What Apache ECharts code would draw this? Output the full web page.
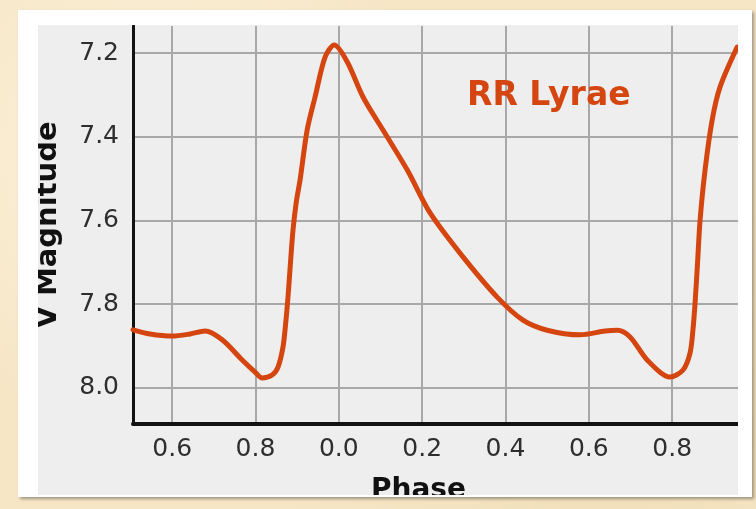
<!DOCTYPE html>
<html>
<head>
<meta charset="utf-8">
<script src="https://cdn.jsdelivr.net/npm/echarts@6/dist/echarts.min.js"></script>
<style>
  html, body { margin: 0; padding: 0; width: 756px; height: 509px; overflow: hidden; }
  body {
    background-color: #f6e6c6;
    background-image:
      radial-gradient(circle at 20% 30%, rgba(255,248,230,0.6), rgba(255,248,230,0) 40%),
      radial-gradient(circle at 80% 80%, rgba(236,214,170,0.5), rgba(236,214,170,0) 45%);
    position: relative;
  }
  #card {
    position: absolute; left: 18px; top: 10px; width: 734px; height: 487px;
    background: #ffffff; box-shadow: 2px 2px 3px rgba(0,0,0,0.35);
  }
  #chart {
    position: absolute; left: 38px; top: 25px; width: 700px; height: 470px;
    background: #eeeeee;
  }
</style>
</head>
<body>
<div id="card"></div>
<div id="chart"></div>
<script>
// Phase (continuous; labels shown modulo 1)
const phase = [0.506, 0.547, 0.600, 0.643, 0.679, 0.720, 0.768, 0.799, 0.816, 0.840, 0.854, 0.866, 0.872, 0.878, 0.884, 0.890, 0.898, 0.907, 0.924, 0.943, 0.967, 0.989, 1.020, 1.058, 1.106, 1.164, 1.219, 1.298, 1.380, 1.442, 1.500, 1.579, 1.639, 1.668, 1.699, 1.740, 1.795, 1.826, 1.843, 1.850, 1.855, 1.861, 1.867, 1.879, 1.896, 1.915, 1.956];
// V magnitude
const vMag = [7.861, 7.871, 7.876, 7.871, 7.864, 7.885, 7.933, 7.962, 7.976, 7.969, 7.950, 7.902, 7.850, 7.783, 7.700, 7.623, 7.555, 7.503, 7.384, 7.305, 7.210, 7.181, 7.221, 7.305, 7.384, 7.479, 7.582, 7.687, 7.783, 7.838, 7.862, 7.873, 7.864, 7.862, 7.878, 7.933, 7.974, 7.957, 7.916, 7.860, 7.797, 7.700, 7.599, 7.479, 7.360, 7.281, 7.186];
const xTicks = [0.6, 0.8, 1.0, 1.2, 1.4, 1.6, 1.8];
const yTicks = [7.2, 7.4, 7.6, 7.8, 8.0];
const starName = 'RR Lyrae';
const xName = 'Phase';
const yName = 'V Magnitude';

const lineColor = '#d5450f';
const chart = echarts.init(document.getElementById('chart'), null, { renderer: 'canvas' });
const data = phase.map((p, i) => [p, vMag[i]]);

chart.setOption({
  animation: false,
  backgroundColor: '#eeeeee',
  title: {
    text: starName,
    left: 424, top: 50,
    textStyle: { color: lineColor, fontFamily: 'DejaVu Sans', fontWeight: 'bold', fontSize: 33 }
  },
  grid: { left: 95, right: 0, top: 1, bottom: 71, containLabel: false, outerBoundsMode: 'none' },
  xAxis: {
    type: 'value', min: 0.506, max: 1.958,
    name: xName, nameLocation: 'middle', nameGap: 53,
    nameTextStyle: { fontFamily: 'DejaVu Sans', fontWeight: 'bold', fontSize: 28, color: '#111', padding: [0, 34, 0, 0] },
    axisLine: { show: true, onZero: false, lineStyle: { color: '#111', width: 4 } },
    axisTick: { show: false, customValues: xTicks },
    axisLabel: {
      customValues: xTicks, margin: 13,
      fontFamily: 'DejaVu Sans', fontSize: 25, color: '#2e2e2e',
      formatter: v => (Math.round((v % 1) * 10) / 10).toFixed(1)
    },
    splitLine: { show: true, lineStyle: { color: '#a8a8a8', width: 2 } }
  },
  yAxis: {
    type: 'value', inverse: true, min: 7.1355, max: 8.086,
    name: yName, nameLocation: 'middle', nameGap: 70, nameRotate: 90,
    nameTextStyle: { fontFamily: 'DejaVu Sans', fontWeight: 'bold', fontSize: 29, color: '#111' },
    axisLine: { show: true, onZero: false, lineStyle: { color: '#111', width: 3 } },
    axisTick: { show: false, customValues: yTicks },
    axisLabel: {
      customValues: yTicks, margin: 14,
      fontFamily: 'DejaVu Sans', fontSize: 25, color: '#2e2e2e',
      formatter: v => v.toFixed(1)
    },
    splitLine: { show: true, lineStyle: { color: '#a8a8a8', width: 2 } }
  },
  series: [{
    type: 'line', data: data, smooth: 0.3, symbol: 'none', clip: true,
    lineStyle: { color: lineColor, width: 5, cap: 'round', join: 'round' }
  }]
});
</script>
</body>
</html>
